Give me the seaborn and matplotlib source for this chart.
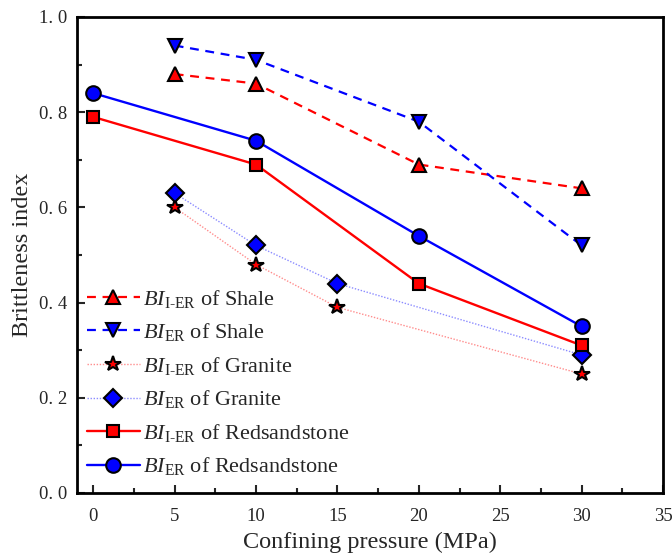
import matplotlib
matplotlib.use("Agg")
import matplotlib.pyplot as plt
import seaborn as sns
from matplotlib.ticker import MultipleLocator, FuncFormatter

sns.set_style("ticks")
plt.rcParams['font.family'] = ['Liberation Serif', 'DejaVu Serif']
plt.rcParams['mathtext.fontset'] = 'custom'
plt.rcParams['mathtext.rm'] = 'Liberation Serif'
plt.rcParams['mathtext.it'] = 'Liberation Serif:italic'

# Data
shale_x = [5, 10, 20, 30]
shale_ier = [0.88, 0.86, 0.69, 0.64]
shale_er = [0.94, 0.91, 0.78, 0.52]
granite_x = [5, 10, 15, 30]
granite_ier = [0.60, 0.48, 0.39, 0.25]
granite_er = [0.63, 0.52, 0.44, 0.29]
red_x = [0, 10, 20, 30]
red_ier = [0.79, 0.69, 0.44, 0.31]
red_er = [0.84, 0.74, 0.54, 0.35]

IER = r'$\mathit{BI}_{\mathrm{I\text{-}ER}}$'
ER = r'$\mathit{BI}_{\mathrm{ER}}$'

series = [
    (shale_x, shale_ier, IER + ' of Shale', 'red', '^', (0, (4, 3)), 1.6),
    (shale_x, shale_er, ER + ' of Shale', 'blue', 'v', (0, (4, 3)), 1.6),
    (granite_x, granite_ier, IER + ' of Granite', '#ff8c8c', '*', (0, (1, 1.2)), 1.0),
    (granite_x, granite_er, ER + ' of Granite', '#8c8cff', 'D', (0, (1, 1.2)), 1.0),
    (red_x, red_ier, IER + ' of Redsandstone', 'red', 's', '-', 1.7),
    (red_x, red_er, ER + ' of Redsandstone', 'blue', 'o', '-', 1.7),
]
face = {'^': 'red', 'v': 'blue', '*': 'red', 'D': 'blue', 's': 'red', 'o': 'blue'}
msize = {'^': 10.5, 'v': 10.5, '*': 11.5, 'D': 9.5, 's': 9, 'o': 10.5}

fig = plt.figure(figsize=(6.72, 5.53), dpi=100)
ax = fig.add_axes([0.1146, 0.1085, 0.872, 0.8608])

for x, y, lab, col, mk, ls, lw in series:
    sns.lineplot(x=x, y=y, ax=ax, color=col, linestyle=ls, linewidth=lw,
                 marker=mk, markersize=msize[mk], markerfacecolor=face[mk],
                 markeredgecolor='black', markeredgewidth=1.5, label=lab)

ax.set_xlim(-1, 35)
ax.set_ylim(0, 1.0)
ax.xaxis.set_major_locator(MultipleLocator(5))
ax.xaxis.set_minor_locator(MultipleLocator(2.5))
ax.yaxis.set_major_locator(MultipleLocator(0.2))
ax.yaxis.set_minor_locator(MultipleLocator(0.1))
ax.yaxis.set_major_formatter(FuncFormatter(lambda v, p: f"{v:.1f}".replace('.', '. ')))
ax.tick_params(which='major', direction='in', length=6, width=1.5, labelsize=13.5)
ax.tick_params(which='minor', direction='in', length=3.5, width=1.5)
ax.tick_params(axis='x', pad=11)
ax.tick_params(axis='y', pad=7)
for s in ax.spines.values():
    s.set_linewidth(2)
    s.set_color('black')
ax.set_xlabel('Confining pressure (MPa)', fontsize=17.5, labelpad=5)
ax.set_ylabel('Brittleness index', fontsize=17.5, labelpad=4)

leg = ax.legend(loc='lower left', bbox_to_anchor=(-0.01, 0.0), frameon=False,
                fontsize=16, handlelength=2.4, handletextpad=0.12,
                labelspacing=0.52, borderaxespad=0.3)

fig.savefig('out.png', dpi=100)
